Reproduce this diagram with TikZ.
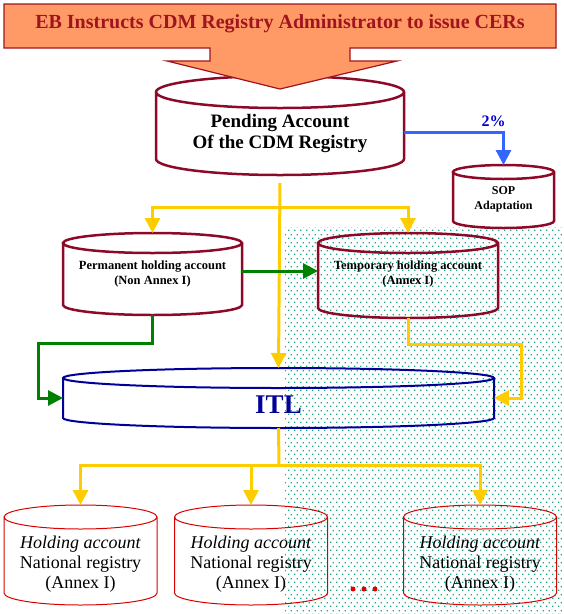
\documentclass[tikz,border=0pt]{standalone}
\usepackage{fontspec}
\setmainfont{Liberation Serif}
\usepackage{xcolor}
\usetikzlibrary{arrows.meta,calc,patterns.meta}

\definecolor{maroon}{RGB}{140,10,40}
\definecolor{bannerred}{RGB}{160,20,30}
\definecolor{bannerfill}{RGB}{255,153,102}
\definecolor{flowyellow}{RGB}{255,204,0}
\definecolor{flowgreen}{RGB}{0,128,0}
\definecolor{flowblue}{RGB}{51,102,255}
\definecolor{itlblue}{RGB}{0,0,153}
\definecolor{dotteal}{RGB}{30,165,140}

\tikzdeclarepattern{
  name=tealdots,
  type=uncolored,
  bottom left={(0pt,0pt)},
  top right={(6pt,8pt)},
  tile size={(6pt,8pt)},
  code={\fill (0pt,0pt) rectangle (1.6pt,1.6pt);
        \fill (3pt,4pt) rectangle (4.6pt,5.6pt);}
}

\newcommand{\tankoutline}[3]{%
  \draw[#1] let \p1=(#2.north west),\p2=(#2.south east),\n1={(\x2-\x1)/2} in
    (\x1,\y1-#3) -- (\x1,\y2+#3)
    arc[start angle=180,end angle=360,x radius=\n1,y radius=#3]
    -- (\x2,\y1-#3)
    (\x1+\n1,\y1-#3) ellipse[x radius=\n1,y radius=#3];
}

\tikzset{
  tankbox/.style={rectangle,draw=none,inner sep=0pt,outer sep=0pt},
  tankline/.style={maroon,line width=2.5pt},
  holdline/.style={red!85!black,line width=1pt},
  itlline/.style={itlblue,line width=2pt},
  boldtext/.style={align=center,font=\bfseries\fontsize{12.5}{15}\selectfont},
  holdtext/.style={align=center,font=\fontsize{18}{20}\selectfont},
  yarrow/.style={flowyellow,line width=3pt,-{Triangle[length=15pt,width=15pt]}},
  garrow/.style={flowgreen,line width=3pt,-{Triangle[length=15pt,width=15pt]}},
  barrow/.style={flowblue,line width=3pt,-{Triangle[length=15pt,width=15pt]}}
}

\begin{document}
\begin{tikzpicture}[x=1pt,y=-1pt]
\useasboundingbox (0,0) rectangle (564,614);
\fill[pattern=tealdots,pattern color=dotteal] (285,227) rectangle (564,614);

\node[tankbox,minimum width=248pt,minimum height=99pt] (pending) at (280,125.5) {};
\node[tankbox,minimum width=101pt,minimum height=63pt] (sop) at (503.5,196.5) {};
\node[tankbox,minimum width=179pt,minimum height=82pt] (perm) at (152.5,274) {};
\node[tankbox,minimum width=180pt,minimum height=85pt] (temp) at (408,275.5) {};
\node[tankbox,minimum width=431pt,minimum height=60pt] (itl) at (278.5,398) {};
\node[tankbox,minimum width=153pt,minimum height=100pt] (hold1) at (80.5,555) {};
\node[tankbox,minimum width=153pt,minimum height=100pt] (hold2) at (251,555) {};
\node[tankbox,minimum width=153pt,minimum height=100pt] (hold3) at (480,555) {};

\tankoutline{tankline}{pending}{16pt}
\tankoutline{tankline}{sop}{7pt}
\tankoutline{tankline}{perm}{10pt}
\tankoutline{tankline}{temp}{10pt}
\tankoutline{itlline}{itl}{10pt}
\tankoutline{holdline}{hold1}{12pt}
\tankoutline{holdline}{hold2}{12pt}
\tankoutline{holdline}{hold3}{12pt}

\filldraw[draw=bannerred,fill=bannerfill,line width=1.2pt]
  (4,4) -- (556,4) -- (556,48) -- (350,48) -- (350,61) -- (397,61) -- (280,89)
  -- (167,61) -- (210,61) -- (210,48) -- (4,48) -- cycle;
\node[text=bannerred,font=\bfseries\fontsize{20}{22}\selectfont] (banner) at (280,24)
  {EB Instructs CDM Registry Administrator to issue CERs};

\node[align=center,font=\bfseries\fontsize{19}{21}\selectfont] (pendingtext) at (280,134)
  {Pending Account\\Of the CDM Registry};
\node[align=center,font=\bfseries\fontsize{12}{15}\selectfont] (soptext) at (503.5,199.5)
  {SOP\\Adaptation};
\node[boldtext] (permtext) at (152.5,274) {Permanent holding account\\(Non Annex I)};
\node[boldtext] (temptext) at (408,274) {Temporary holding account\\(Annex I)};
\node[text=itlblue,font=\bfseries\fontsize{27}{30}\selectfont] (itltext) at (278.5,405) {ITL};
\node[holdtext] (hold1text) at (80.5,564) {\textit{Holding account}\\National registry\\(Annex I)};
\node[holdtext] (hold2text) at (251,564) {\textit{Holding account}\\National registry\\(Annex I)};
\node[holdtext] (hold3text) at (480,564) {\textit{Holding account}\\National registry\\(Annex I)};

\draw[barrow] ([yshift=-6.5pt]pending.east) -| node[pos=0.45,above,text=blue!80!black,
  font=\bfseries\fontsize{16}{18}\selectfont] {2\%} (sop.north);

\coordinate (split) at (280,207);
\coordinate (splitlow) at (279,465);
\coordinate (gleft) at (38,343);
\coordinate (yright) at (521,344);
\draw[yarrow] ([yshift=-8pt]pending.south) -- (itl.north);
\draw[yarrow] (split) -| (perm.north);
\draw[yarrow] (split) -| (temp.north);
\draw[garrow] ([yshift=3pt]perm.east) -- ([yshift=3pt]perm.east -| temp.west);
\draw[garrow] (perm.south) |- (gleft) |- (itl.west);
\draw[yarrow] (temp.south) |- (yright) |- (itl.east);
\draw[flowyellow,line width=3pt] (itl.south) -- (splitlow);
\draw[yarrow] (splitlow) -| (hold1.north);
\draw[yarrow] (splitlow) -| (hold2.north);
\draw[yarrow] (splitlow) -| (hold3.north);

\fill[red!90!black] (353,589) circle (2.5) (364,589) circle (2.5) (375,589) circle (2.5);
\end{tikzpicture}
\end{document}
